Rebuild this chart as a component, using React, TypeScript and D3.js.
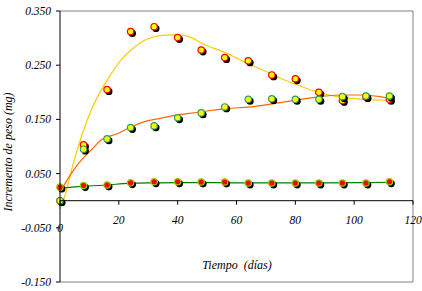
import React from "react";
import * as d3 from "d3";

const days = [0, 8, 16, 24, 32, 40, 48, 56, 64, 72, 80, 88, 96, 104, 112];
const serieA = [0, 0.103, 0.205, 0.312, 0.321, 0.301, 0.278, 0.264, 0.258, 0.232, 0.225, 0.2, 0.185, 0.192, 0.187];
const serieB = [0, 0.095, 0.114, 0.135, 0.138, 0.153, 0.162, 0.173, 0.187, 0.188, 0.187, 0.187, 0.192, 0.193, 0.193];
const serieC = [0.025, 0.028, 0.029, 0.033, 0.035, 0.035, 0.0345, 0.0345, 0.0327, 0.0327, 0.0327, 0.0327, 0.0327, 0.0327, 0.035];

const fitAtA = [0, 2, 4, 7.25, 10.6, 14, 17.5, 20.8, 24.2, 28.8, 33.3, 38, 42, 50, 56.7, 63.5, 70.3, 75, 80, 86, 90.5, 97, 103, 112];
const fitA = [-0.015, 0.015, 0.058, 0.118, 0.167, 0.204, 0.235, 0.26, 0.278, 0.296, 0.304, 0.306, 0.305, 0.286, 0.272, 0.2535, 0.238, 0.226, 0.215, 0.203, 0.196, 0.19, 0.187, 0.185];

const fitAtB = [0, 1, 3.85, 7.25, 10.6, 14, 19.7, 24.2, 28.8, 33.3, 38.5, 44, 50, 56.7, 64.6, 74.8, 86, 95, 103, 108.8, 112];
const fitB = [0.015, 0.025, 0.0505, 0.075, 0.0935, 0.112, 0.124, 0.1365, 0.146, 0.151, 0.157, 0.161, 0.1655, 0.17, 0.173, 0.181, 0.19, 0.195, 0.195, 0.192, 0.189];

const fitAtC = [0, 6, 16.3, 23, 33, 45, 60, 75, 90, 105, 112];
const fitC = [0.023, 0.026, 0.029, 0.032, 0.033, 0.0335, 0.033, 0.033, 0.033, 0.0335, 0.034];

const xTicks = [0, 20, 40, 60, 80, 100, 120];
const yTicks = [0.35, 0.25, 0.15, 0.05, -0.05, -0.15];

const FONT = "Liberation Serif, DejaVu Serif, Times New Roman, serif";

export default function App() {
  const x = d3.scaleLinear().domain([0, 120]).range([60, 413]);
  const y = d3.scaleLinear().domain([-0.15, 0.35]).range([282, 11]);

  const line = d3
    .line<[number, number]>()
    .x((d) => x(d[0]))
    .y((d) => y(d[1]))
    .curve(d3.curveMonotoneX);

  const fits = [
    { at: fitAtA, vals: fitA, color: "#FFCC00" },
    { at: fitAtB, vals: fitB, color: "#FF6600" },
    { at: fitAtC, vals: fitC, color: "#008000" },
  ];

  const series = [
    { vals: serieA, fill: "#FFFF00", stroke: "#FF0000" },
    { vals: serieB, fill: "#FFFF00", stroke: "#339966" },
    { vals: serieC, fill: "#FF0000", stroke: "#99CC00" },
  ];

  return (
    <svg
      width={422}
      height={291}
      style={{ position: "absolute", left: 0, top: 0, background: "#fff" }}
      fontFamily={FONT}
      fontStyle="italic"
    >
      <rect x={0} y={0} width={422} height={291} fill="#fff" />
      {/* frame */}
      <line x1={60} x2={413} y1={y(0.35)} y2={y(0.35)} stroke="#808080" />
      <line x1={413} x2={413} y1={y(0.35)} y2={y(-0.15)} stroke="#808080" />
      <line x1={60} x2={413} y1={y(-0.15)} y2={y(-0.15)} stroke="#808080" />

      {/* fits */}
      {fits.map((f, i) => (
        <path
          key={i}
          d={line(f.at.map((t, j) => [t, f.vals[j]] as [number, number])) || ""}
          fill="none"
          stroke={f.color}
          strokeWidth={1.2}
        />
      ))}

      {/* markers */}
      {series.map((s, i) => (
        <g key={i}>
          {days.map((t, j) => (
            <g key={j}>
              <circle cx={x(t) + 1.8} cy={y(s.vals[j]) + 1.8} r={3.6} fill="#000" />
              <circle
                cx={x(t)}
                cy={y(s.vals[j])}
                r={3.2}
                fill={s.fill}
                stroke={s.stroke}
                strokeWidth={1.2}
              />
            </g>
          ))}
        </g>
      ))}

      {/* axes */}
      <line x1={60} x2={60} y1={y(0.35)} y2={y(-0.15)} stroke="#000" />
      <line x1={60} x2={413} y1={y(0)} y2={y(0)} stroke="#000" />
      {yTicks.map((v) => (
        <g key={v}>
          <line x1={56} x2={60} y1={y(v)} y2={y(v)} stroke="#000" />
          <text x={51} y={y(v)} dy="0.35em" textAnchor="end" fontSize={11.5}>
            {d3.format(".3f")(v).replace("−", "-")}
          </text>
        </g>
      ))}
      {xTicks.map((v, i) => (
        <g key={v}>
          <line x1={x(v)} x2={x(v)} y1={y(0)} y2={y(0) + 4} stroke="#000" />
          <text
            x={x(v)}
            y={i === 0 ? 228 : 220}
            dy="0.35em"
            textAnchor="middle"
            fontSize={11.5}
          >
            {v}
          </text>
        </g>
      ))}

      <text x={237} y={265} dy="0.35em" textAnchor="middle" fontSize={12} style={{ whiteSpace: "pre" }}>
        {"Tiempo  (días)"}
      </text>
      <text
        transform="translate(8,152) rotate(-90)"
        dy="0.35em"
        textAnchor="middle"
        fontSize={12}
      >
        Incremento de peso (mg)
      </text>
    </svg>
  );
}
